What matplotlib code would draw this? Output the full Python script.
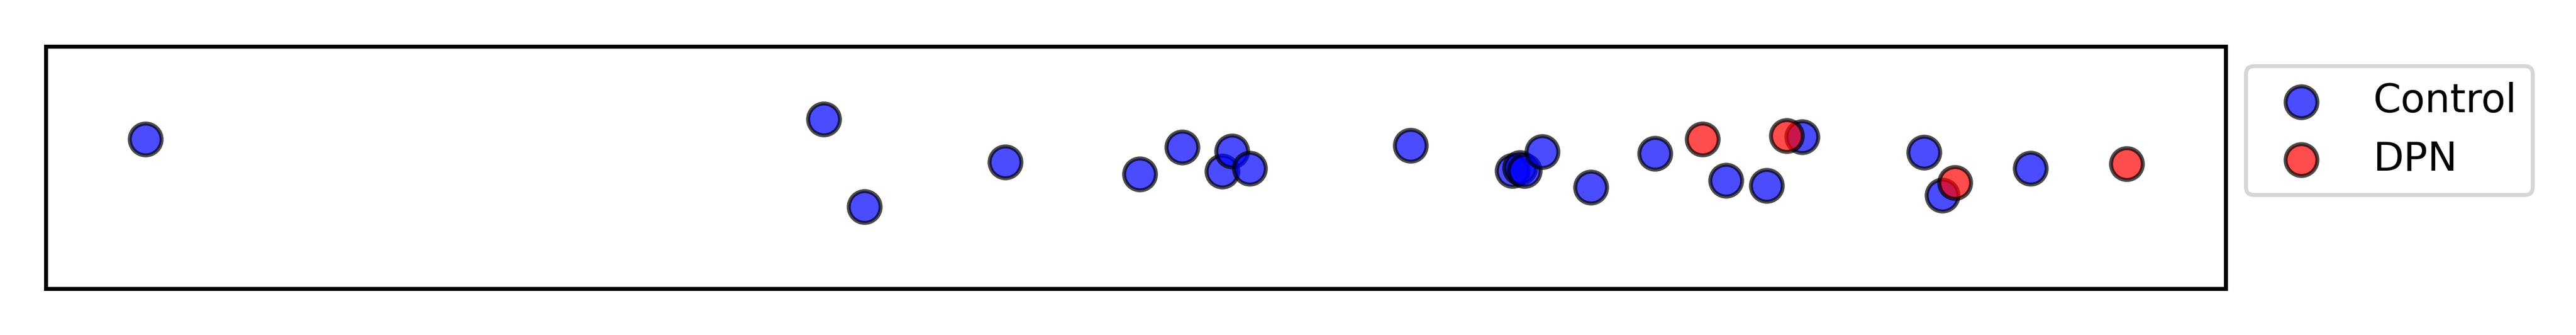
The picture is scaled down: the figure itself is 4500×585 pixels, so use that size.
import matplotlib
matplotlib.use("Agg")
import matplotlib.pyplot as plt

# Strip of subjects along one score axis, vertical position is jitter only.
control_x = [4.57, 35.69, 37.55, 44.01, 50.18, 52.13, 53.97, 54.41, 55.23, 62.61,
             67.28, 67.62, 67.83, 68.64, 70.88, 73.82, 77.07, 78.94, 80.57, 86.16,
             87.00, 91.05]
control_y = [0.233, 0.399, -0.325, 0.044, -0.055, 0.166, -0.032, 0.133, -0.008, 0.181,
             -0.027, -0.004, -0.027, 0.129, -0.164, 0.115, -0.107, -0.150, 0.251, 0.124,
             -0.230, -0.008]
dpn_x = [76.00, 79.86, 87.58, 95.46]
dpn_y = [0.233, 0.261, -0.126, 0.030]

fig = plt.figure(figsize=(9, 1.17), dpi=500)
ax = fig.add_axes([80 / 4500, 81 / 585, 3808 / 4500, 423.5 / 585])

ax.scatter(control_x, control_y, s=64, c="blue", alpha=0.7, edgecolors="black",
           linewidths=1.0, label="Control")
ax.scatter(dpn_x, dpn_y, s=64, c="red", alpha=0.7, edgecolors="black",
           linewidths=1.0, label="DPN")

ax.set_xlim(0, 100)
ax.set_ylim(-1, 1)
ax.set_xticks([])
ax.set_yticks([])
for sp in ax.spines.values():
    sp.set_linewidth(1.0)

ax.legend(loc="upper left", bbox_to_anchor=(1, 1), fontsize=10)

fig.savefig("out.png", dpi=500)
